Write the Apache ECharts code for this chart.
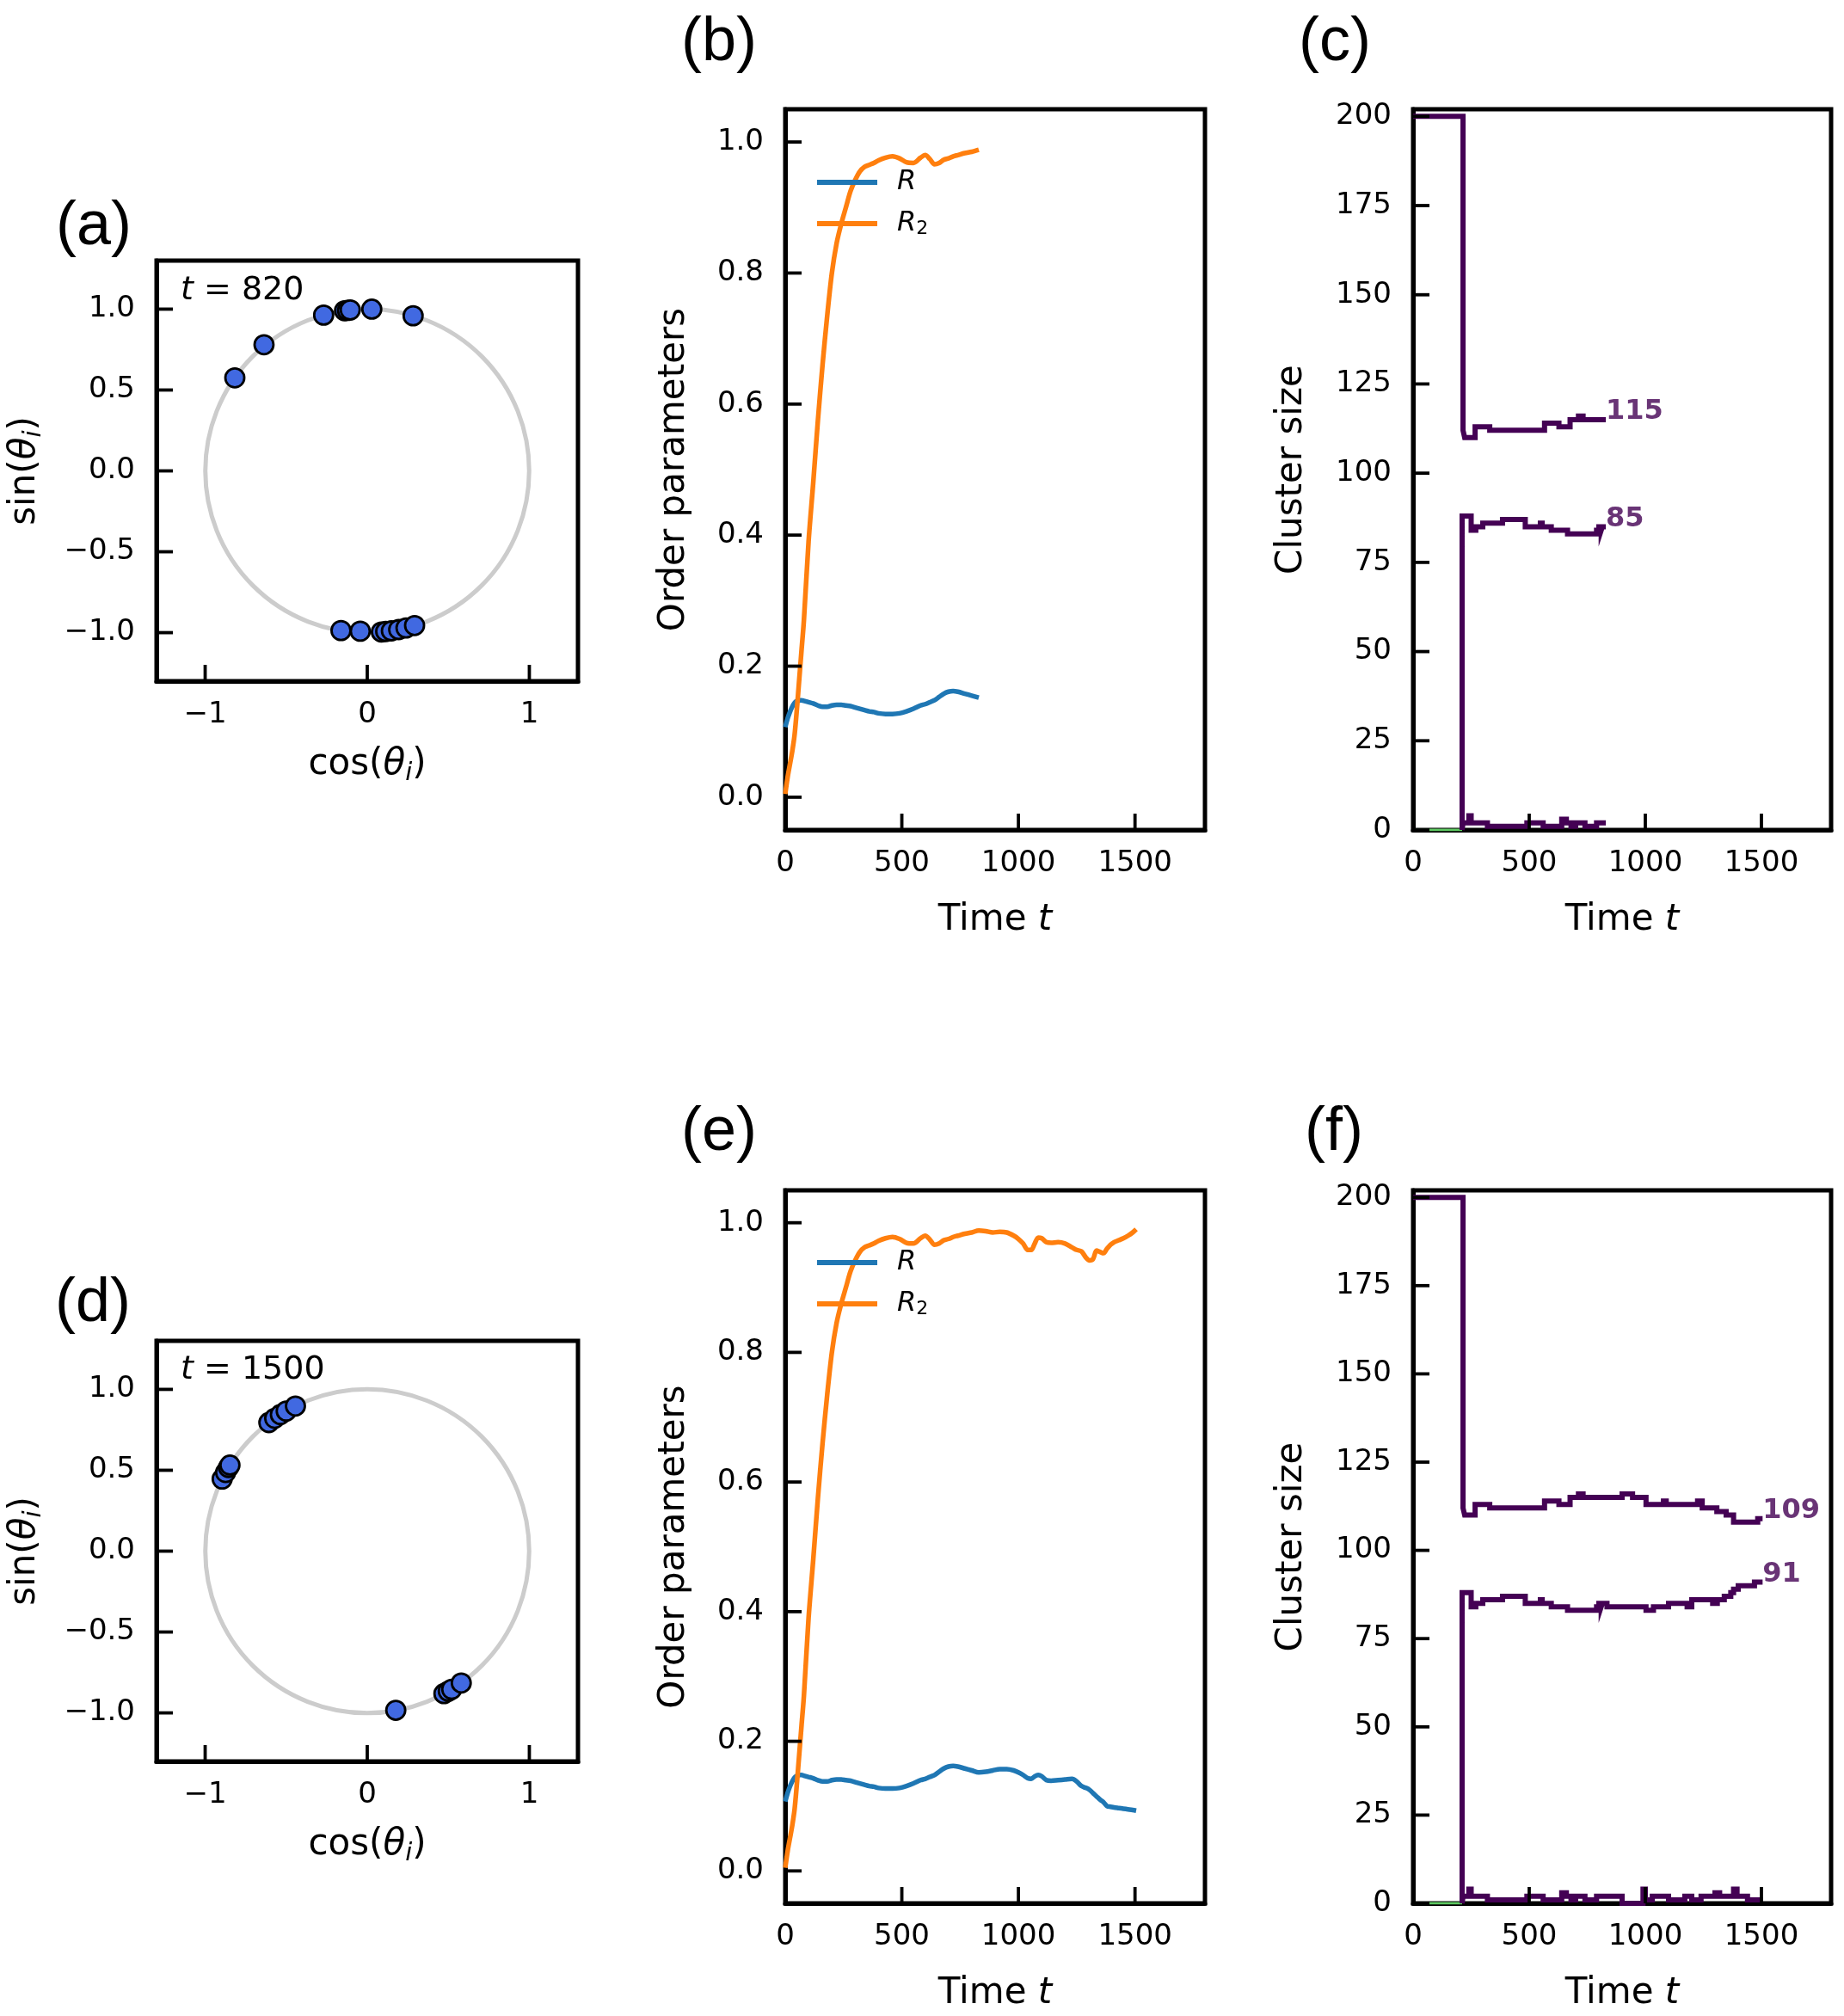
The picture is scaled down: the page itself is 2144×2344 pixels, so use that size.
<!DOCTYPE html>
<html><head><meta charset="utf-8">
<script src="https://cdn.jsdelivr.net/npm/echarts@6/dist/echarts.min.js"></script>
<style>html,body{margin:0;padding:0;background:#fff}#c{width:2144px;height:2344px}</style>
</head><body><div id="c"></div>
<script>
// ---------------- data ----------------
const circleTicksX = [-1, 0, 1];
const circleTicksY = [-1, -0.5, 0, 0.5, 1];
const timeTicks = [0, 500, 1000, 1500];
const orderTicks = [0, 0.2, 0.4, 0.6, 0.8, 1.0];
const clusterTicks = [0, 25, 50, 75, 100, 125, 150, 175, 200];
const panelLetters = ['(a)', '(b)', '(c)', '(d)', '(e)', '(f)'];
const snapshotTimes = [820, 1500];
const runEnds = [830, 1505];
const unitCircle = [[0, 0, 1]];   // centre x, centre y, radius

// oscillator positions (cos θi, sin θi) at t = 820
const phasesT820 = [
  [-0.817, 0.575], [-0.637, 0.780], [-0.269, 0.963], [-0.140, 0.990], [-0.122, 0.992],
  [-0.105, 0.995], [0.028, 1.000], [0.283, 0.959],
  [-0.162, -0.987], [-0.043, -0.991], [0.087, -0.996], [0.114, -0.993], [0.149, -0.989],
  [0.194, -0.981], [0.239, -0.971], [0.292, -0.956]
];
// oscillator positions at t = 1500
const phasesT1500 = [
  [-0.895, 0.446], [-0.874, 0.486], [-0.856, 0.517], [-0.847, 0.532],
  [-0.607, 0.795], [-0.571, 0.821], [-0.536, 0.844], [-0.500, 0.866], [-0.443, 0.897],
  [0.176, -0.984], [0.473, -0.881], [0.500, -0.866], [0.521, -0.854], [0.580, -0.815]
];

// order parameters vs time
const tOrder = [0,10,20,30,40,50,60,70,80,100,120,140,160,180,200,220,240,260,280,300,320,340,360,380,400,430,460,490,520,550,580,600,620,640,660,680,700,720,740,770,800,830,860,890,920,950,980,1000,1020,1040,1055,1070,1085,1100,1120,1140,1170,1200,1230,1250,1270,1290,1305,1320,1335,1350,1365,1380,1395,1410,1430,1450,1470,1490,1505];
const R = [0.107,0.120,0.130,0.138,0.144,0.147,0.148,0.148,0.147,0.145,0.143,0.140,0.138,0.138,0.140,0.141,0.141,0.140,0.139,0.137,0.135,0.133,0.131,0.130,0.128,0.127,0.127,0.128,0.131,0.135,0.140,0.142,0.145,0.148,0.153,0.158,0.161,0.162,0.161,0.158,0.155,0.152,0.153,0.155,0.157,0.157,0.155,0.152,0.148,0.143,0.142,0.146,0.148,0.146,0.140,0.139,0.140,0.141,0.142,0.138,0.131,0.128,0.125,0.120,0.115,0.110,0.106,0.100,0.099,0.098,0.097,0.096,0.095,0.094,0.093];
const R2 = [0.005,0.030,0.050,0.070,0.095,0.135,0.180,0.225,0.270,0.390,0.480,0.575,0.660,0.735,0.800,0.845,0.875,0.900,0.925,0.942,0.955,0.962,0.965,0.968,0.972,0.976,0.978,0.975,0.969,0.968,0.976,0.980,0.974,0.966,0.968,0.973,0.975,0.978,0.980,0.983,0.985,0.988,0.987,0.985,0.986,0.985,0.980,0.975,0.968,0.958,0.958,0.968,0.977,0.976,0.970,0.969,0.970,0.968,0.962,0.958,0.956,0.946,0.942,0.944,0.957,0.955,0.953,0.960,0.966,0.970,0.973,0.976,0.980,0.985,0.990];

// cluster sizes: [time, size] steps (size holds from this time on)
const clusterLargest = [[0,200],[215,112],[222,110],[267,113],[330,112],[566,114],[628,113],[676,115],[712,116],[732,115],[900,116],[945,115],[1003,113],[1078,114],[1090,113],[1225,114],[1245,112],[1308,111],[1348,110],[1380,108],[1484,109]];
const clusterSecond = [[211,0],[211,88],[250,84],[270,85],[300,86],[385,87],[483,85],[548,86],[556,85],[595,84],[665,83],[790,84],[800,85],[810,84],[815,85],[835,84],[1003,83],[1035,84],[1100,85],[1180,84],[1200,86],[1290,85],[1310,86],[1340,87],[1368,88],[1380,89],[1400,90],[1470,91]];
const clusterSmall = [[211,0],[215,2],[240,4],[250,2],[320,1],[490,2],[560,1],[640,3],[660,2],[680,1],[700,2],[740,1],[790,2],[900,0],[990,4],[1000,1],[1030,2],[1100,1],[1170,2],[1200,1],[1240,2],[1300,3],[1320,2],[1380,4],[1395,2],[1440,1]];
const clusterEmpty = [[0,0],[211,0]];

// ---------------- helpers ----------------
const DV = 'DejaVu Sans';
const BLACK = '#000';
const TICK_LEN = 19;
function orderUpTo(vals, tEnd) {
  return tOrder.map((t, i) => [t, vals[i]]).filter(p => p[0] <= tEnd);
}
function stepsUpTo(steps, tEnd) {
  const out = steps.filter(p => p[0] < tEnd).map(p => p.slice());
  out.push([tEnd, out[out.length - 1][1]]);
  return out;
}
const minus = s => String(s).replace('-', '\u2212');

const grids = [
  {left: 182, top: 303, width: 490, height: 489},
  {left: 913, top: 127, width: 488, height: 838},
  {left: 1643, top: 127, width: 486, height: 838},
  {left: 182, top: 1559, width: 490, height: 489},
  {left: 913, top: 1384, width: 488, height: 839},
  {left: 1643, top: 1384, width: 486, height: 839}
].map(g => Object.assign(g, {show: true, borderColor: BLACK, borderWidth: 5, backgroundColor: 'transparent', containLabel: false}));

const richName = {
  it: {fontStyle: 'italic', fontFamily: DV, fontSize: 42, color: BLACK, lineHeight: 50},
  sub: {fontStyle: 'italic', fontFamily: DV, fontSize: 29, color: BLACK, verticalAlign: 'bottom', lineHeight: 29}
};
function labelCfg(vals, fmt, margin) {
  return {show: true, customValues: vals, formatter: fmt, fontSize: 34, fontFamily: DV, color: BLACK, margin: margin};
}
function xAxis(gi, min, max, ticks, fmt, name, gap) {
  return {type: 'value', gridIndex: gi, min: min, max: max, position: 'bottom',
    axisLine: {show: true, onZero: false, lineStyle: {color: BLACK, width: 5}}, splitLine: {show: false},
    axisTick: {show: false}, axisLabel: labelCfg(ticks, fmt, 22),
    name: name, nameLocation: 'middle', nameGap: gap,
    nameTextStyle: {fontSize: 42, fontFamily: DV, color: BLACK, lineHeight: 50, rich: richName}};
}
function yAxis(gi, min, max, ticks, fmt, name, gap) {
  return {type: 'value', gridIndex: gi, min: min, max: max, position: 'left',
    axisLine: {show: true, onZero: false, lineStyle: {color: BLACK, width: 5}}, splitLine: {show: false},
    axisTick: {show: false}, axisLabel: labelCfg(ticks, fmt, 25),
    name: name, nameLocation: 'middle', nameGap: gap, nameRotate: 90,
    nameTextStyle: {fontSize: 42, fontFamily: DV, color: BLACK, lineHeight: 50, rich: richName}};
}
const fmtInt = v => minus(v);
const fmtOne = v => minus(v.toFixed(1));
const fmtOrder = v => v.toFixed(1);

const axisSpec = [
  {x: [-1.3, 1.3, circleTicksX, fmtInt, 'cos({it|θ}{sub|i})', 72], y: [-1.3, 1.3, circleTicksY, fmtOne, 'sin({it|θ}{sub|i})', 128]},
  {x: [0, 1800, timeTicks, fmtInt, 'Time {it|t}', 80], y: [-0.05, 1.05, orderTicks, fmtOrder, 'Order parameters', 104]},
  {x: [0, 1800, timeTicks, fmtInt, 'Time {it|t}', 80], y: [0, 202, clusterTicks, fmtInt, 'Cluster size', 116]},
  {x: [-1.3, 1.3, circleTicksX, fmtInt, 'cos({it|θ}{sub|i})', 72], y: [-1.3, 1.3, circleTicksY, fmtOne, 'sin({it|θ}{sub|i})', 128]},
  {x: [0, 1800, timeTicks, fmtInt, 'Time {it|t}', 80], y: [-0.05, 1.05, orderTicks, fmtOrder, 'Order parameters', 104]},
  {x: [0, 1800, timeTicks, fmtInt, 'Time {it|t}', 80], y: [0, 202, clusterTicks, fmtInt, 'Cluster size', 116]}
];
const xAxes = axisSpec.map((s, gi) => xAxis(gi, ...s.x));
const yAxes = axisSpec.map((s, gi) => yAxis(gi, ...s.y));

const series = [];
// inward tick marks, positioned through the axes' own scales
axisSpec.forEach((s, gi) => {
  const xMin = s.x[0], yMin = s.y[0];
  const tickData = s.x[2].map(v => [v, yMin, 0]).concat(s.y[2].map(v => [xMin, v, 1]));
  series.push({type: 'custom', xAxisIndex: gi, yAxisIndex: gi, data: tickData, silent: true, z: 5, clip: false,
    renderItem: (params, api) => {
      const p = api.coord([api.value(0), api.value(1)]);
      const vertical = api.value(2) === 0;
      const shape = vertical ? {x1: p[0], y1: p[1], x2: p[0], y2: p[1] - TICK_LEN}
                             : {x1: p[0], y1: p[1], x2: p[0] + TICK_LEN, y2: p[1]};
      return {type: 'line', shape: shape, style: {stroke: BLACK, lineWidth: 3.8}};
    }});
});

const phaseSets = [phasesT820, phasesT1500];
[0, 3].forEach((gi, k) => {
  series.push({type: 'custom', xAxisIndex: gi, yAxisIndex: gi, data: unitCircle, silent: true, z: 1,
    renderItem: (params, api) => {
      const c = api.coord([api.value(0), api.value(1)]);
      const s = api.size([api.value(2), api.value(2)]);
      return {type: 'circle', shape: {cx: c[0], cy: c[1], r: (s[0] + s[1]) / 2},
        style: {fill: 'none', stroke: '#cccccc', lineWidth: 5}};
    }});
  series.push({type: 'scatter', xAxisIndex: gi, yAxisIndex: gi, data: phaseSets[k], symbolSize: 22, z: 3,
    itemStyle: {color: '#4169e1', borderColor: BLACK, borderWidth: 2.8, opacity: 1}});
});
[1, 4].forEach((gi, k) => {
  const tEnd = runEnds[k];
  series.push({type: 'line', name: 'R', xAxisIndex: gi, yAxisIndex: gi, data: orderUpTo(R, tEnd),
    showSymbol: false, smooth: 0.3, lineStyle: {color: '#1f77b4', width: 5.5}, itemStyle: {color: '#1f77b4'}, z: 2});
  series.push({type: 'line', name: 'R2', xAxisIndex: gi, yAxisIndex: gi, data: orderUpTo(R2, tEnd),
    showSymbol: false, smooth: 0.3, lineStyle: {color: '#ff7f0e', width: 5.5}, itemStyle: {color: '#ff7f0e'}, z: 3});
});
[2, 5].forEach((gi, k) => {
  const tEnd = runEnds[k];
  series.push({type: 'line', xAxisIndex: gi, yAxisIndex: gi, data: clusterEmpty, showSymbol: false,
    lineStyle: {color: '#5ec962', width: 3}, z: 2});
  const big = stepsUpTo(clusterLargest, tEnd);
  const sec = stepsUpTo(clusterSecond, tEnd);
  const small = stepsUpTo(clusterSmall, tEnd);
  [small, sec, big].forEach(d => series.push({type: 'line', step: 'end', xAxisIndex: gi, yAxisIndex: gi, data: d,
    showSymbol: false, lineStyle: {color: '#440154', width: 6, join: 'miter'}, z: 3}));
  series.push({type: 'scatter', xAxisIndex: gi, yAxisIndex: gi, symbolSize: 0.1, itemStyle: {color: 'rgba(0,0,0,0)'}, z: 4,
    data: [big[big.length - 1], sec[sec.length - 1]],
    label: {show: true, position: [0, 0], offset: [0, 7], align: 'left', verticalAlign: 'bottom', formatter: p => String(p.value[1]),
      fontSize: 32, fontWeight: 'bold', fontFamily: DV, color: '#440154', lineHeight: 32}});
});

const letterPos = [[65, 228], [792, 14], [1510, 14], [64, 1480], [792, 1281], [1517, 1281]];
const titles = panelLetters.map((txt, i) => ({text: txt, left: letterPos[i][0], top: letterPos[i][1], padding: 0,
  textStyle: {fontFamily: 'Liberation Sans', fontSize: 72, fontWeight: 'normal', color: BLACK, lineHeight: 72}}));
const snapPos = [[210, 318], [210, 1573]];
snapshotTimes.forEach((t, k) => titles.push({text: '{it|t} = ' + t, left: snapPos[k][0], top: snapPos[k][1], padding: 0,
  textStyle: {fontFamily: DV, fontSize: 38, fontWeight: 'normal', color: BLACK, lineHeight: 40,
    rich: {it: {fontFamily: DV, fontStyle: 'italic', fontSize: 38, color: BLACK, lineHeight: 40}}}}));

const legendRich = {
  it: {fontFamily: DV, fontStyle: 'italic', fontSize: 32, color: BLACK, lineHeight: 34},
  sub: {fontFamily: DV, fontSize: 22, color: BLACK, verticalAlign: 'bottom', lineHeight: 22}
};
const legends = [195, 1451].map(top => ({
  data: ['R', 'R2'], orient: 'vertical', left: 950, top: top, itemWidth: 70, itemHeight: 6, itemGap: 14,
  icon: 'rect', selectedMode: false, padding: 0,
  formatter: n => n === 'R' ? '{it|R}' : '{it|R}{sub|2}',
  textStyle: {fontSize: 32, fontFamily: DV, color: BLACK, lineHeight: 34, padding: [0, 0, 0, 18], rich: legendRich}
}));

const chart = echarts.init(document.getElementById('c'), null, {renderer: 'canvas'});
chart.setOption({
  animation: false, backgroundColor: '#fff',
  title: titles, legend: legends,
  grid: grids, xAxis: xAxes, yAxis: yAxes, series: series
});
</script></body></html>
